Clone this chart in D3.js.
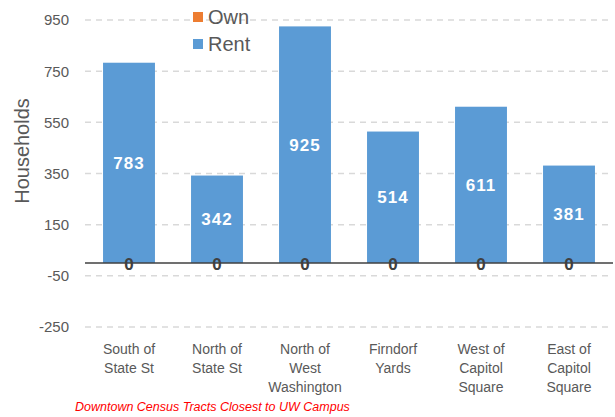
<!DOCTYPE html>
<html>
<head>
<meta charset="utf-8">
<script src="https://cdn.jsdelivr.net/npm/d3@7"></script>
<style>
  body { margin: 0; background: #fff; }
  svg { font-family: "Liberation Sans", Arial, sans-serif; }
</style>
</head>
<body>
<div id="chart"></div>
<script>
// data
var tracts = [["South of", "State St"], ["North of", "State St"], ["North of", "West", "Washington"],
              ["Firndorf", "Yards"], ["West of", "Capitol", "Square"], ["East of", "Capitol", "Square"]];
var own = [0, 0, 0, 0, 0, 0];
var rent = [783, 342, 925, 514, 611, 381];
var yTicks = [-250, -50, 150, 350, 550, 750, 950];

var width = 615, height = 417;
var svg = d3.select('#chart').append('svg')
    .attr('width', width)
    .attr('height', height);

var x = d3.scaleBand()
    .domain(d3.range(tracts.length))
    .range([85, 613])
    .paddingInner(0.41)
    .paddingOuter(0.205);

var y = d3.scaleLinear()
    .domain([-250, 950])
    .range([327, 20]);

// gridlines
svg.append('g')
    .selectAll('line')
    .data(yTicks)
    .enter().append('line')
    .attr('x1', 85).attr('x2', 613)
    .attr('y1', function (d) { return y(d); })
    .attr('y2', function (d) { return y(d); })
    .attr('stroke', '#d9d9d9')
    .attr('stroke-width', 1.5)
    .attr('stroke-dasharray', '6,5');

// y tick labels
svg.append('g')
    .selectAll('text')
    .data(yTicks)
    .enter().append('text')
    .attr('x', 69)
    .attr('y', function (d) { return y(d); })
    .attr('dy', '0.36em')
    .attr('text-anchor', 'end')
    .attr('fill', '#595959')
    .style('font-size', '15px')
    .text(function (d) { return d; });

// y axis title
svg.append('text')
    .attr('transform', 'translate(29,' + 151 + ') rotate(-90)')
    .attr('text-anchor', 'middle')
    .attr('fill', '#595959')
    .style('font-size', '20px')
    .text('Households');

// bars (stacked: own then rent)
var bars = svg.append('g');
bars.selectAll('rect.rent')
    .data(rent)
    .enter().append('rect')
    .attr('class', 'rent')
    .attr('x', function (d, i) { return x(i); })
    .attr('width', x.bandwidth())
    .attr('y', function (d, i) { return y(own[i] + d); })
    .attr('height', function (d, i) { return y(own[i]) - y(own[i] + d); })
    .attr('fill', '#5b9bd5');
bars.selectAll('rect.own')
    .data(own)
    .enter().append('rect')
    .attr('class', 'own')
    .attr('x', function (d, i) { return x(i); })
    .attr('width', x.bandwidth())
    .attr('y', function (d) { return y(d); })
    .attr('height', function (d) { return y(0) - y(d); })
    .attr('fill', '#ed7d31');

// zero line
svg.append('line')
    .attr('x1', 85).attr('x2', 613)
    .attr('y1', y(0)).attr('y2', y(0))
    .attr('stroke', '#404040')
    .attr('stroke-width', 1.5);

// rent labels
svg.append('g')
    .selectAll('text')
    .data(rent)
    .enter().append('text')
    .attr('x', function (d, i) { return x(i) + x.bandwidth() / 2; })
    .attr('y', function (d, i) { return y(own[i] + d / 2); })
    .attr('dy', '0.36em')
    .attr('text-anchor', 'middle')
    .attr('fill', '#fff')
    .style('font-size', '17px')
    .style('font-weight', 'bold')
    .style('letter-spacing', '1px')
    .text(function (d) { return d; });

// own labels
svg.append('g')
    .selectAll('text')
    .data(own)
    .enter().append('text')
    .attr('x', function (d, i) { return x(i) + x.bandwidth() / 2; })
    .attr('y', function (d) { return y(d / 2) + 1; })
    .attr('dy', '0.36em')
    .attr('text-anchor', 'middle')
    .attr('fill', '#404040')
    .style('font-size', '17px')
    .style('font-weight', 'bold')
    .text(function (d) { return d; });

// category labels
var cats = svg.append('g')
    .selectAll('text')
    .data(tracts)
    .enter().append('text')
    .attr('x', function (d, i) { return x(i) + x.bandwidth() / 2; })
    .attr('y', 354)
    .attr('text-anchor', 'middle')
    .attr('fill', '#595959')
    .style('font-size', '14px');
cats.selectAll('tspan')
    .data(function (d) { return d; })
    .enter().append('tspan')
    .attr('x', function () { return this.parentNode.getAttribute('x'); })
    .attr('dy', function (d, j) { return j === 0 ? 0 : 19; })
    .text(function (d) { return d; });

// legend
var legend = svg.append('g').attr('transform', 'translate(193,12)');
var legendItems = [['Own', '#ed7d31'], ['Rent', '#5b9bd5']];
legendItems.forEach(function (d, i) {
    legend.append('rect')
        .attr('x', 0).attr('y', i * 27)
        .attr('width', 10).attr('height', 10)
        .attr('fill', d[1]);
    legend.append('text')
        .attr('x', 15).attr('y', i * 27 + 5)
        .attr('dy', '0.36em')
        .attr('fill', '#595959')
        .style('font-size', '20px')
        .text(d[0]);
});

// footnote
svg.append('text')
    .attr('x', 75)
    .attr('y', 411)
    .attr('fill', '#ff0000')
    .style('font-size', '12.5px')
    .style('font-style', 'italic')
    .text('Downtown Census Tracts Closest to UW Campus');
</script>
</body>
</html>
